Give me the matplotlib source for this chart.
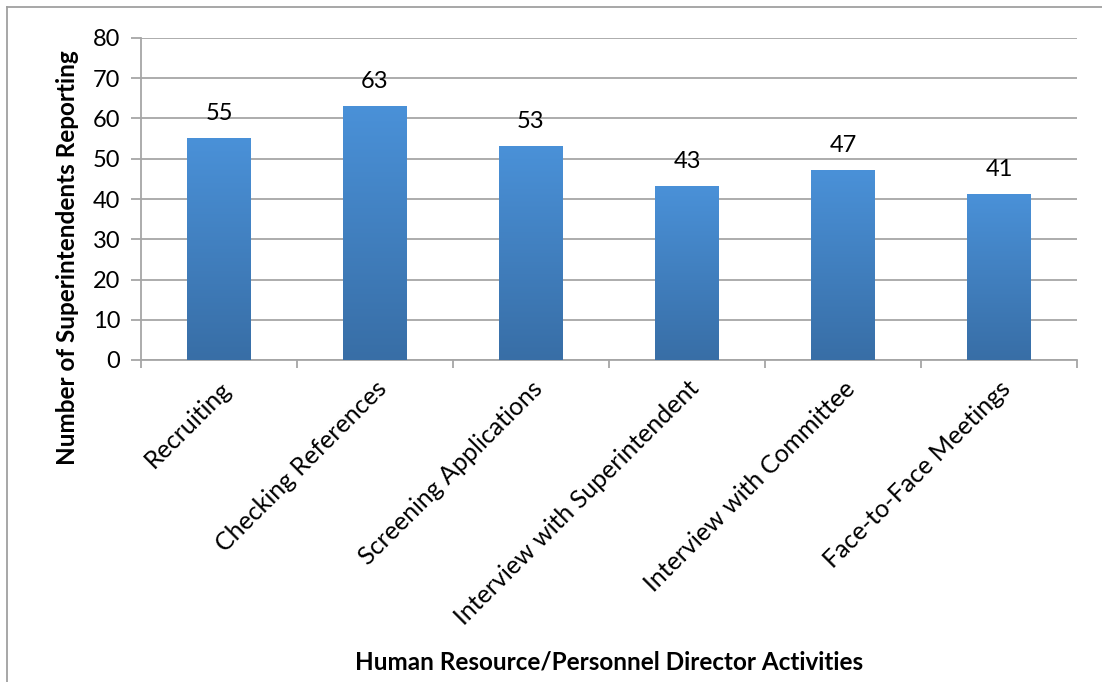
import matplotlib
matplotlib.use("Agg")
import matplotlib.pyplot as plt
import numpy as np
from matplotlib.colors import LinearSegmentedColormap
from matplotlib.lines import Line2D

categories = ["Recruiting", "Checking References", "Screening Applications",
              "Interview with Superintendent", "Interview with Committee",
              "Face-to-Face Meetings"]
values = [55, 63, 53, 43, 47, 41]
yticks = [0, 10, 20, 30, 40, 50, 60, 70, 80]

plt.rcParams['font.family'] = ['Lato', 'DejaVu Sans']

W, H = 1102, 682
fig = plt.figure(figsize=(W / 100, H / 100), dpi=100)
ax = fig.add_axes([141 / W, 1 - 360 / H, (1077 - 141) / W, (360 - 38) / H])

x = np.arange(len(categories))
bw = 0.41
bars = ax.bar(x, values, width=bw, color='none', zorder=3)

cmap = LinearSegmentedColormap.from_list("g", ["#386ea6", "#4a91d8"])
grad = np.linspace(0, 1, 256).reshape(-1, 1)
for b in bars:
    x0, w, h = b.get_x(), b.get_width(), b.get_height()
    ax.imshow(grad, cmap=cmap, aspect='auto', origin='lower',
              extent=[x0, x0 + w, 0, h], zorder=3)
    ax.text(x0 + w / 2, h + 3.6, str(int(h)), ha='center', va='bottom',
            fontsize=17, color='black')

ax.set_xlim(-0.5, len(categories) - 0.5)
ax.set_ylim(0, 80)
ax.set_yticks(yticks)
ax.set_yticklabels([str(v) for v in yticks], fontsize=17)
ax.yaxis.grid(True, color='#a6a6a6', linewidth=1.3, zorder=0)
ax.set_axisbelow(True)

ax.set_xticks(np.arange(-0.5, len(categories) + 0.5, 1))
ax.set_xticklabels([])
ax.set_xticks(x, minor=True)
ax.set_xticklabels(categories, minor=True, rotation=45, ha='right',
                   rotation_mode='anchor', fontsize=18)
ax.tick_params(axis='x', which='minor', length=0, pad=12)
ax.tick_params(axis='x', which='major', length=6, color='#a6a6a6', width=1.3)
ax.tick_params(axis='y', length=7, color='#a6a6a6', width=1.3, pad=8)

for s in ['top', 'right']:
    ax.spines[s].set_visible(False)
for s in ['left', 'bottom']:
    ax.spines[s].set_color('#a6a6a6')
    ax.spines[s].set_linewidth(1.3)

fig.text(68 / W, 1 - 258 / H, "Number of Superintendents Reporting",
         rotation=90, ha='center', va='center', fontsize=17.5, fontweight='bold')
fig.text(609 / W, 1 - 662 / H, "Human Resource/Personnel Director Activities",
         ha='center', va='center', fontsize=17.5, fontweight='bold')

# outer chart border
fig.add_artist(Line2D([7 / W, 1.0], [1 - 7 / H, 1 - 7 / H], color='#a0a0a0',
                      linewidth=1.3, transform=fig.transFigure))
fig.add_artist(Line2D([7 / W, 7 / W], [1 - 7 / H, 0], color='#a0a0a0',
                      linewidth=1.3, transform=fig.transFigure))

fig.savefig("out.png", dpi=100)
